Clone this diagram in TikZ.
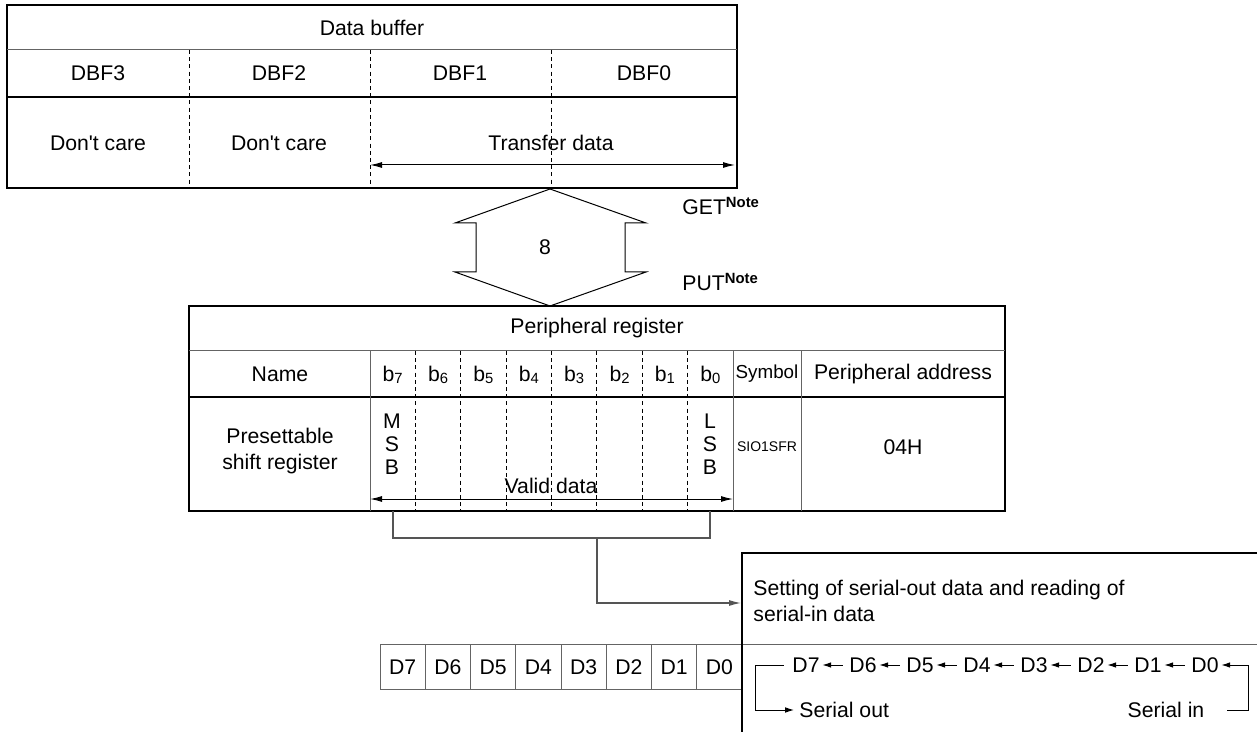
\documentclass[tikz,border=0pt]{standalone}
\usepackage{fontspec}
\setmainfont{Liberation Sans}
\usetikzlibrary{arrows.meta, positioning, calc}
\definecolor{clrFrame}{RGB}{0,0,0}
\definecolor{clrGrid}{RGB}{100,100,100}
\definecolor{clrLink}{RGB}{85,85,85}
\newcommand{\bitsub}[1]{\raisebox{-0.25ex}{\fontsize{7.4}{8}\selectfont #1}}

\begin{document}
\begin{tikzpicture}[
  x=0.5pt, y=-0.5pt,
  txt/.style={font=\fontsize{10.6}{12.7}\selectfont, inner sep=0pt, align=center},
  stack/.style={txt, font=\fontsize{10.6}{11.5}\selectfont},
  small/.style={font=\fontsize{9.4}{11}\selectfont, inner sep=0pt},
  tiny/.style={font=\fontsize{7}{8}\selectfont, inner sep=0pt},
  frame/.style={draw=clrFrame, line width=1.4pt},
  rule/.style={draw=clrFrame, line width=0.9pt},
  grid/.style={draw=clrGrid, line width=0.5pt},
  dline/.style={draw=clrFrame, line width=0.5pt, dash pattern=on 2pt off 1.6pt},
  span/.style={{Latex[length=6pt,width=3pt]}-{Latex[length=6pt,width=3pt]}, line width=0.5pt},
  link/.style={draw=clrLink, line width=0.6pt},
  linkarrow/.style={link, -{Latex[length=6pt,width=3pt]}},
  shiftarrow/.style={-{Latex[length=4.4pt,width=2.8pt]}, line width=0.5pt}
]
\useasboundingbox (0,0) rectangle (1257,732);

% Data buffer
\draw[frame] (7,5) rectangle (737,188);
\draw[grid] (7,50) -- (737,50);
\draw[rule] (7,97) -- (737,97);
\foreach \x in {189,370,551} \draw[dline] (\x,50) -- (\x,188);
\node[txt] (dbuf) at (372,28) {Data buffer};
\foreach \i/\x in {3/98,2/279,1/460,0/644}
  \node[txt] (dbf\i) at (\x,73) {DBF\i};
\node[txt] (care3) at (98,143) {Don\textquotesingle t care};
\node[txt] (care2) at (279,143) {Don\textquotesingle t care};
\node[txt] (xfer) at (551,143) {Transfer data};
\coordinate (xfer-l) at (370,165);
\coordinate (xfer-r) at (735,165);
\draw[span] (xfer-l) -- (xfer-r);

% Bus
\draw[line width=0.5pt] (550,189) -- (646,223) -- (625,223) -- (625,272) -- (646,272)
  -- (550,306) -- (455,272) -- (476,272) -- (476,223) -- (455,223) -- cycle;
\node[txt] (width) at (545,247) {8};
\node[txt, anchor=base west] (get) at (682,215) {GET\textsuperscript{\textbf{Note}}};
\node[txt, anchor=base west] (put) at (682,291) {PUT\textsuperscript{\textbf{Note}}};

% Peripheral register
\draw[frame] (189,306) rectangle (1005,511);
\draw[grid] (189,351) -- (1005,351);
\draw[rule] (189,397) -- (1005,397);
\foreach \x in {370,733,801} \draw[grid] (\x,351) -- (\x,511);
\foreach \k in {1,...,7} \draw[dline] ({370+45.375*\k},351) -- ({370+45.375*\k},511);
\node[txt] (preg) at (597,328) {Peripheral register};
\node[txt] (name) at (280,374) {Name};
\foreach \i in {0,...,7}
  \node[txt, anchor=base] (b\i) at ({733-45.375*(\i+0.5)},381) {b\bitsub{\i}};
\node[small] (sym) at (767,374) {Symbol};
\node[txt] (addr) at (903,374) {Peripheral address};
\node[txt] (sreg) at (280,451) {Presettable\\shift register};
\node[stack] (msb) at (392,444) {M\\S\\B};
\node[stack] (lsb) at (710,444) {L\\S\\B};
\node[tiny] (sio) at (767,447) {SIO1SFR};
\node[txt] (adval) at (903,447) {04H};
\node[txt] (valid) at (551,486) {Valid data};
\coordinate (valid-l) at (370,499);
\coordinate (valid-r) at (733,499);
\draw[span] (valid-l) -- (valid-r);

% Link to shift register
\coordinate (brk-l) at (393,511);
\coordinate (brk-r) at (710,511);
\coordinate (brk-m) at (597,538);
\coordinate (sbox-in) at (741,603);
\draw[link] (brk-l) |- (brk-r |- brk-m) -- (brk-r);
\draw[linkarrow] (brk-m) |- (sbox-in);

% Shift register cells
\foreach \i in {0,...,7} {
  \draw[grid] ({742-45.25*(\i+1)},644) rectangle ({742-45.25*\i},689);
  \node[txt] (d\i) at ({742-45.25*(\i+0.5)},667) {D\i};
}
\draw[grid] (742,644) -- (1257,644);
\draw[frame] (1257,553) -- (742,553) -- (742,732);
\node[txt, anchor=west, align=left] (sdesc) at (753,601)
  {Setting of serial-out data and reading of\\serial-in data};

% Shift chain
\foreach \i in {0,...,7}
  \node[txt, inner sep=1.2pt] (s\i) at ({806+57*(7-\i)},665) {D\i};
\foreach \i [evaluate=\i as \j using int(\i+1)] in {0,...,6}
  \draw[shiftarrow] ([xshift=-2pt]s\i.west) -- (s\j);
\node[txt, inner sep=2.5pt, anchor=west] (serout) at (794,710) {Serial out};
\node[txt] (serin) at (1166,710) {Serial in};
\coordinate (so-c) at (755,710);
\coordinate (si-c) at (1248,710);
\coordinate (si-end) at (1227,710);
\draw[shiftarrow] ([xshift=-3pt]s7.west) -- (s7.west -| so-c) -- (so-c) -- (serout.west);
\draw[shiftarrow] (si-end) -- (si-c) -- (si-c |- s0) -- (s0);

\end{tikzpicture}
\end{document}
